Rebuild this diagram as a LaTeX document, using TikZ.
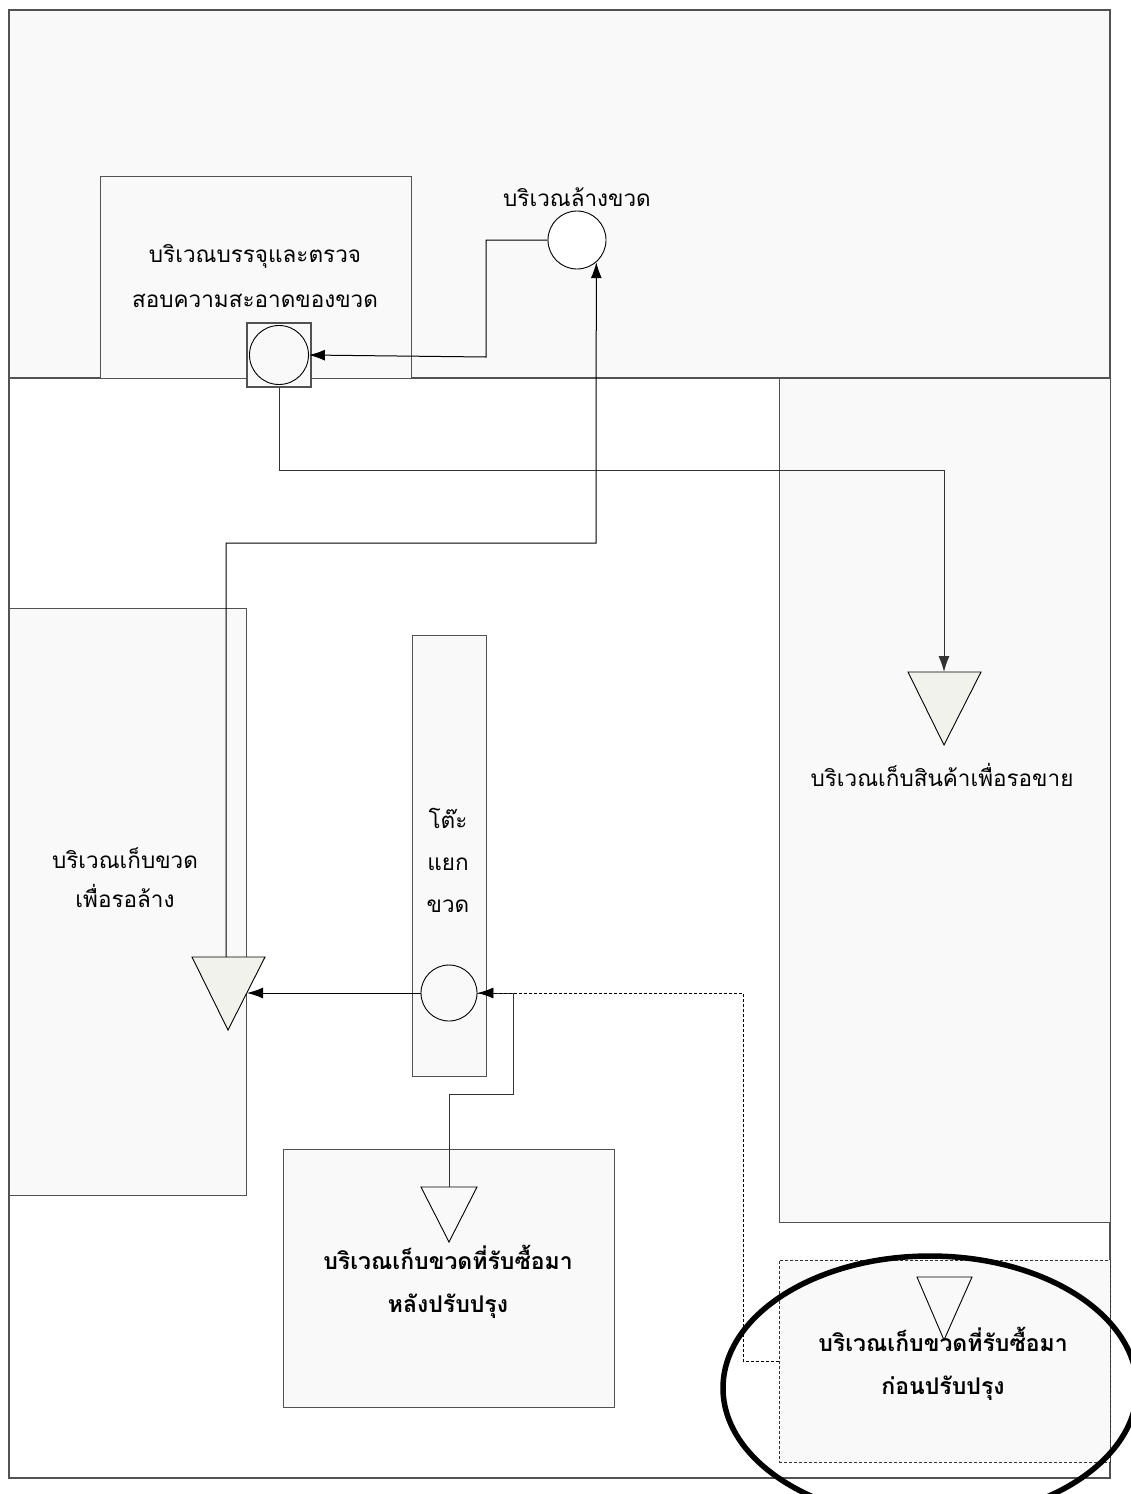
\documentclass[tikz,border=0pt]{standalone}
\usepackage{fontspec}
\newfontfamily\thai[Script=Thai]{Loma}
\usetikzlibrary{arrows.meta}
\definecolor{trifill}{RGB}{242,242,236}
\definecolor{zonefill}{RGB}{249,249,249}
\begin{document}
\begin{tikzpicture}[x=1pt,y=-1pt,
  frame/.style={draw=black!68, line width=1.2pt},
  zone/.style={draw=black!68, fill=zonefill, line width=1.2pt, rectangle, inner sep=0pt, anchor=north west},
  dzone/.style={zone, draw=black!80, line width=0.8pt, dash pattern=on 3pt off 2pt},
  spot/.style={draw=black, circle, line width=0.9pt, inner sep=0pt, fill=white},
  tri/.style={draw=black, line width=0.9pt, fill=#1},
  tip/.style={-{Latex[length=16pt,width=11pt]}},
  flow/.style={draw=black, line width=1pt, tip},
  line/.style={draw=black!80, line width=1pt},
  lbl/.style={font=\thai\fontsize{22.5}{42}\selectfont, align=center, inner sep=0pt},
  blbl/.style={font=\thai\bfseries\fontsize{23}{43}\selectfont, align=center, inner sep=0pt}
]
\useasboundingbox (0,0) rectangle (1130,1494);
% upper area and outer frame
\fill[zonefill] (9,10) rectangle (1110,378);
\draw[frame] (9,10) rectangle (1110,1478);
\draw[frame] (9,378) -- (1110,378);

% zones
\node[zone, minimum width=311pt, minimum height=202pt] (pack) at (100,176) {};
\node[zone, minimum width=331pt, minimum height=844pt] (sale) at (779,378) {};
\node[zone, minimum width=237pt, minimum height=587pt] (wait) at (9,608) {};
\node[zone, minimum width=74pt, minimum height=441pt] (table) at (412,635) {};
\node[zone, minimum width=331pt, minimum height=258pt] (after) at (283,1149) {};
\node[dzone, minimum width=331pt, minimum height=202pt] (before) at (779,1260) {};

% labels
\node[lbl, font=\thai\fontsize{22.5}{45}\selectfont] (packtxt) at (255,276) {บริเวณบรรจุและตรวจ\\สอบความสะอาดของขวด};
\node[lbl] (washtxt) at (577,197) {บริเวณล้างขวด};
\node[lbl] (saletxt) at (942,775) {บริเวณเก็บสินค้าเพื่อรอขาย};
\node[lbl, font=\thai\fontsize{22.5}{39}\selectfont] (waittxt) at (125,878) {บริเวณเก็บขวด\\เพื่อรอล้าง};
\node[lbl, font=\thai\fontsize{22.5}{42}\selectfont] (tabletxt) at (448,860) {โต๊ะ\\แยก\\ขวด};
\node[blbl] (aftertxt) at (448,1282) {บริเวณเก็บขวดที่รับซื้อมา\\หลังปรับปรุง};
\node[blbl] (beforetxt) at (943,1364) {บริเวณเก็บขวดที่รับซื้อมา\\ก่อนปรับปรุง};

% stations
\node[draw=black!68, fill=zonefill, line width=1.1pt, minimum size=64pt, inner sep=0pt] (sq) at (279,355) {};
\node[spot, minimum size=59pt, fill=zonefill] (check) at (279,355) {};
\node[spot, minimum size=58pt, fill=white] (wash) at (577,240) {};
\node[spot, minimum size=56pt, fill=zonefill] (sort) at (449,993) {};

% triangles
\draw[tri=trifill] (908,672) -- (981,672) -- (944,745) -- cycle;
\coordinate (tS) at (944,672);
\draw[tri=trifill] (192,957) -- (265,957) -- (228,1030) -- cycle;
\coordinate (tWtop) at (226,957);
\coordinate (tWside) at (247,993);
\draw[tri=zonefill] (421,1187) -- (477,1187) -- (449,1242) -- cycle;
\coordinate (tA) at (449,1187);
\draw[tri=zonefill] (917,1277) -- (972,1277) -- (944,1340) -- cycle;
\coordinate (bL) at (779,1361);

% connectors
\draw[flow] (wash.west) -- (486,240) -- (486,357) -- (check.east);
\draw[line, tip] (sq.south) -- (279,470) -- (944,470) -- (tS);
\draw[flow] (tWtop) -- (226,543) -- (596,543) -- (wash.-49);
\draw[flow] (sort.west) -- (tWside);
\draw[line] (sort.east) -- (513,993) -- (513,1094) -- (449,1094) -- (tA);
\draw[draw=black, line width=0.8pt, dash pattern=on 3pt off 2pt, tip] (bL) -- (743,1361) -- (743,993) -- (sort.east);

% highlight ellipse
\draw[black, line width=5.5pt] (930,1388) ellipse [x radius=207pt, y radius=132pt];
\end{tikzpicture}
\end{document}
